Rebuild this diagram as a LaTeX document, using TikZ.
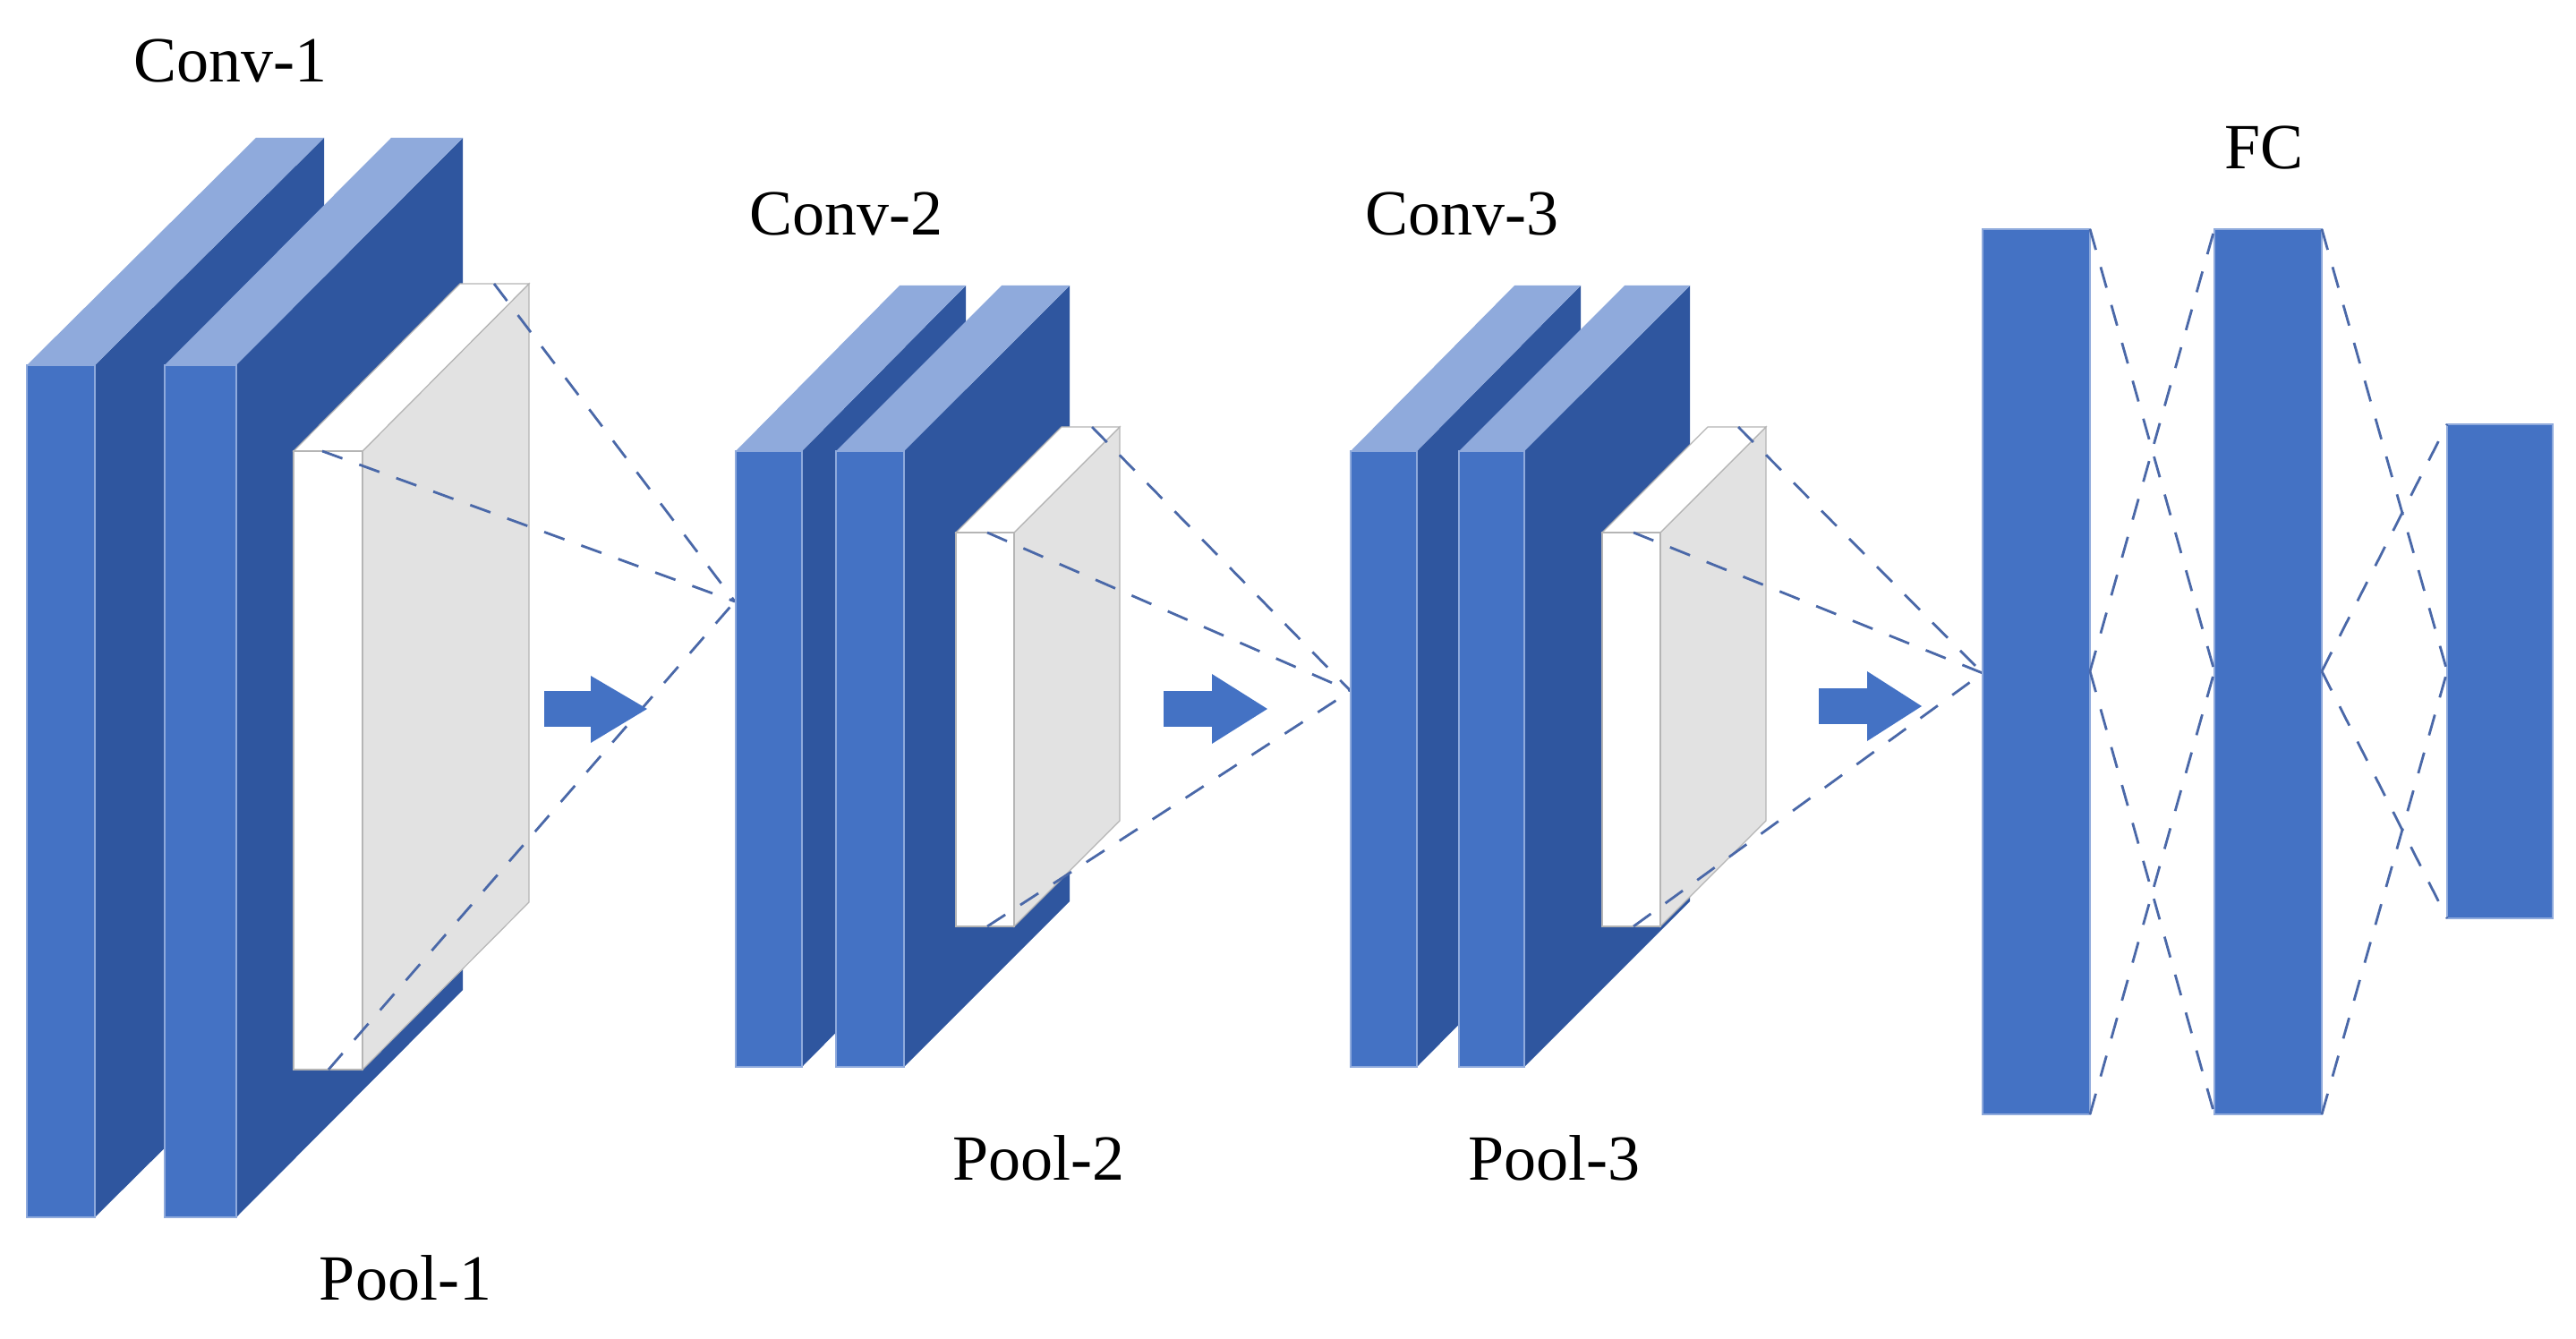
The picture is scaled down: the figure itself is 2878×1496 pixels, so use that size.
\documentclass[tikz,border=0pt]{standalone}
\usepackage{fontspec}
\setmainfont{Liberation Serif}
\definecolor{fr}{HTML}{4472C4}
\definecolor{sd}{HTML}{2F569F}
\definecolor{tp}{HTML}{8FAADC}
\definecolor{gy}{HTML}{E2E2E2}
\definecolor{dl}{HTML}{4A68A8}
\tikzset{
 front/.style={fill=fr,draw=tp,line width=0.5pt},
 side/.style={fill=sd},
 top/.style={fill=tp},
 pfront/.style={fill=white,draw=gy!80!black,line width=0.3pt},
 pside/.style={fill=gy,draw=gy!80!black,line width=0.3pt},
 dln/.style={draw=dl,dash pattern=on 6pt off 5pt,line width=0.7pt},
 lbl/.style={font=\fontsize{18}{20}\selectfont,inner sep=0pt},
 bar/.style={fill=fr,draw=tp,line width=0.4pt}
}
% #1 xl #2 xr #3 yt #4 yb #5 dx #6 dy
\newcommand\slab[6]{%
 \fill[side] (#2,#3)--({#2+#5},{#3+#6})--({#2+#5},{#4+#6})--(#2,#4)--cycle;
 \fill[top] (#1,#3)--({#1+#5},{#3+#6})--({#2+#5},{#3+#6})--(#2,#3)--cycle;
 \draw[front] (#1,#3) rectangle (#2,#4);}
\newcommand\pool[6]{%
 \draw[pside] (#2,#3)--({#2+#5},{#3+#6})--({#2+#5},{#4+#6})--(#2,#4)--cycle;
 \draw[pfront] (#1,#3)--({#1+#5},{#3+#6})--({#2+#5},{#3+#6})--(#2,#3)--cycle;
 \draw[pfront] (#1,#3) rectangle (#2,#4);}
\newcommand\barrow[6]{%
 \fill[fr] (#2,#4)--(#3,#5)--(#2,#6)--cycle;
 \fill[fr] (#1,{#5-20})rectangle(#2,{#5+20});}
\begin{document}
\begin{tikzpicture}[x=0.25pt,y=-0.25pt]
\useasboundingbox (0,0) rectangle (2878,1496);
% Conv-1 / Pool-1
\slab{30}{106}{408}{1360}{256}{-254}
\slab{184}{264}{408}{1360}{253}{-254}
\pool{328}{405}{504}{1195}{186}{-187}
\coordinate (a1) at (821,672);
\draw[dln] (552,317) -- (a1);
\draw[dln] (360,504) -- (a1);
\draw[dln] (367,1195) -- (a1);
\barrow{608}{660}{723}{755}{792}{830}
% Conv-2 / Pool-2
\slab{822}{896}{504}{1192}{183}{-185}
\slab{934}{1010}{504}{1192}{185}{-185}
\pool{1068}{1133}{595}{1035}{118}{-118}
\coordinate (a2) at (1509,772);
\draw[dln] (1220,477) -- (a2);
\draw[dln] (1103,595) -- (a2);
\draw[dln] (1103,1035) -- (a2);
\barrow{1300}{1354}{1416}{753}{792}{831}
% Conv-3 / Pool-3
\slab{1509}{1583}{504}{1192}{183}{-185}
\slab{1630}{1703}{504}{1192}{185}{-185}
\pool{1790}{1855}{595}{1035}{118}{-118}
\coordinate (a3) at (2215,752);
\draw[dln] (1942,477) -- (a3);
\draw[dln] (1825,595) -- (a3);
\draw[dln] (1825,1035) -- (a3);
\barrow{2032}{2086}{2147}{750}{789}{828}
% FC
\draw[bar] (2215,256) rectangle (2335,1245);
\draw[bar] (2474,256) rectangle (2594,1245);
\draw[bar] (2734,474) rectangle (2852,1026);
\draw[dln] (2335,256)--(2474,750);
\draw[dln] (2335,750)--(2474,256);
\draw[dln] (2335,750)--(2474,1245);
\draw[dln] (2335,1245)--(2474,750);
\draw[dln] (2594,256)--(2734,750);
\draw[dln] (2594,750)--(2734,474);
\draw[dln] (2594,750)--(2734,1026);
\draw[dln] (2594,1245)--(2734,750);
% labels
\node[lbl] (c1) at (257,68) {Conv-1};
\node[lbl] (p1) at (453,1428) {Pool-1};
\node[lbl] (c2) at (945,239) {Conv-2};
\node[lbl] (p2) at (1160,1294) {Pool-2};
\node[lbl] (c3) at (1633,239) {Conv-3};
\node[lbl] (p3) at (1736,1294) {Pool-3};
\node[lbl] (fc) at (2529,165) {FC};
\end{tikzpicture}
\end{document}
